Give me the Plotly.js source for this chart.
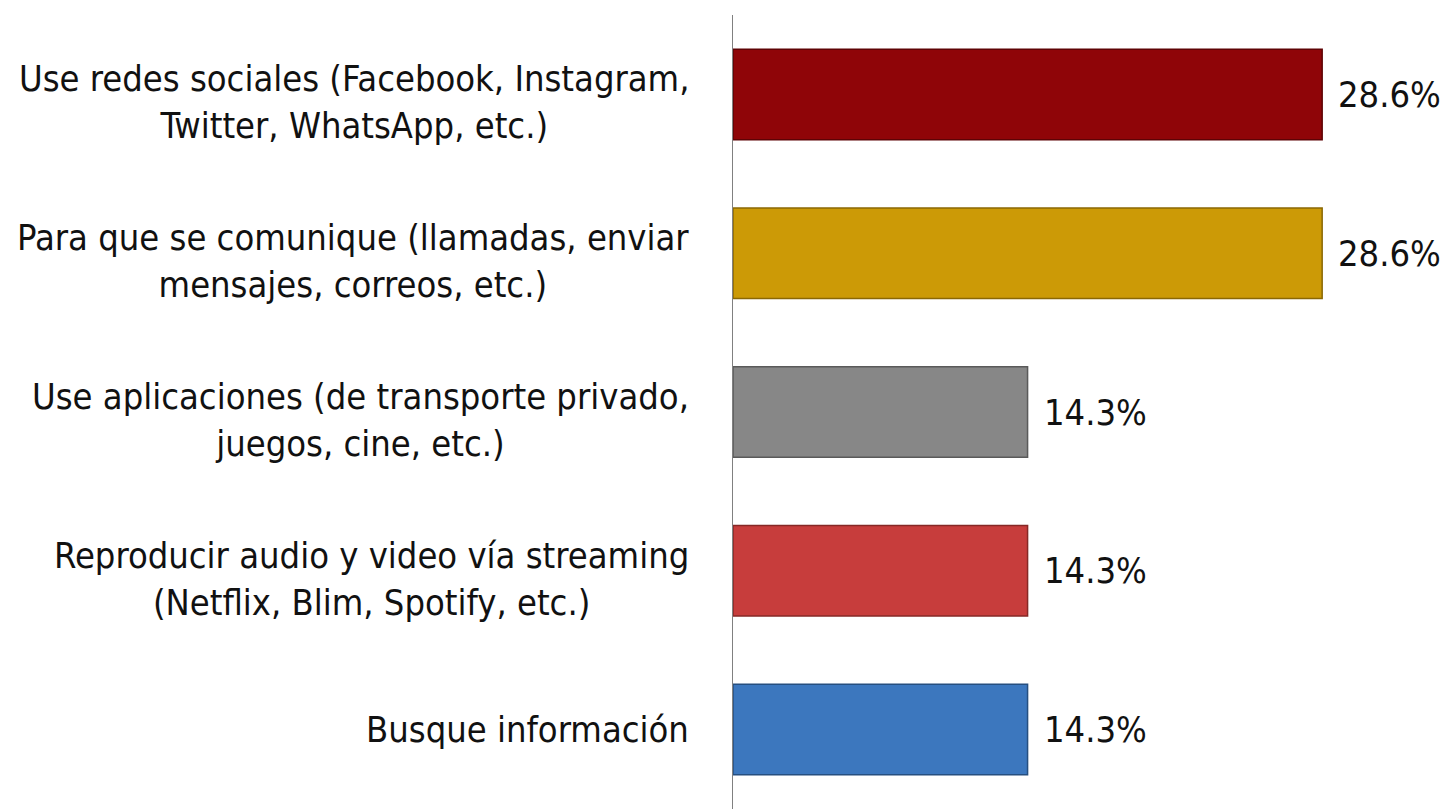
<!DOCTYPE html>
<html>
<head>
<meta charset="utf-8">
<script src="https://cdn.plot.ly/plotly-3.0.1.min.js"></script>
<style>
  html, body { margin: 0; padding: 0; background: #ffffff; }
  #chart { width: 1454px; height: 809px; }
</style>
</head>
<body>
<div id="chart"></div>
<script>
const categories = [
  "Use redes sociales (Facebook, Instagram,<br>Twitter, WhatsApp, etc.)",
  "Para que se comunique (llamadas, enviar<br>mensajes, correos, etc.)",
  "Use aplicaciones (de transporte privado,<br>juegos, cine, etc.)",
  "Reproducir audio y video vía streaming<br>(Netflix, Blim, Spotify, etc.)",
  "Busque información"
];
const values = [28.6, 28.6, 14.3, 14.3, 14.3];
const valueLabels = ["28.6%", "28.6%", "14.3%", "14.3%", "14.3%"];
const barColors = ["#8f0508", "#cc9a06", "#878787", "#c73d3c", "#3c77be"];
const barEdges = ["#5e0305", "#8a6804", "#5a5a5a", "#862826", "#264f80"];

const FONT = "'Liberation Sans Narrow', 'DejaVu Sans Condensed', 'Roboto', sans-serif";

const trace = {
  type: "bar",
  orientation: "h",
  x: values,
  y: categories,
  marker: { color: barColors, line: { color: barEdges, width: 1.5 } },
  hoverinfo: "skip"
};

const annotations = [];
categories.forEach((c, i) => {
  const twoLine = c.indexOf("<br>") >= 0;
  annotations.push({
    xref: "paper", yref: "y", x: 0, y: c,
    xanchor: "right", yanchor: "middle", xshift: -42, yshift: twoLine ? -8 : 0,
    text: c, align: "center", showarrow: false,
    font: { family: FONT, size: 36, color: "#111111" }
  });
  annotations.push({
    xref: "x", yref: "y", x: values[i], y: c,
    xanchor: "left", yanchor: "middle", xshift: 14,
    text: valueLabels[i], showarrow: false,
    font: { family: FONT, size: 36, color: "#111111" }
  });
});

const layout = {
  width: 1454, height: 809,
  margin: { l: 733, r: 0, t: 15, b: 0, pad: 0 },
  paper_bgcolor: "#ffffff", plot_bgcolor: "rgba(0,0,0,0)",
  showlegend: false,
  bargap: 0.43,
  xaxis: { range: [0, 35], showgrid: false, zeroline: false, showline: false,
           showticklabels: false, ticks: "" },
  yaxis: { autorange: "reversed", showgrid: false, zeroline: false,
           showline: true, linecolor: "#808080", linewidth: 1.5,
           showticklabels: false, ticks: "" },
  annotations: annotations
};

Plotly.newPlot("chart", [trace], layout, { displayModeBar: false, staticPlot: true });
</script>
</body>
</html>
